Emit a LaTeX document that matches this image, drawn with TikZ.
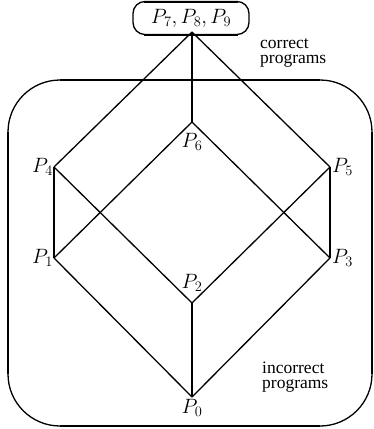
\documentclass[tikz,border=0pt]{standalone}
\usepackage{fontspec}
\setmainfont{Liberation Serif}
\begin{document}
\begin{tikzpicture}[x=1pt,y=-1pt,
  edge/.style={line width=1.3pt},
  vedge/.style={line width=2pt},
  thin/.style={line width=1.3pt},
  thick/.style={line width=2.6pt},
  lab/.style={inner sep=0pt, font=\fontsize{21}{21}\selectfont},
  txt/.style={inner sep=0pt, align=left, font=\fontsize{17.5}{15}\selectfont}]
\useasboundingbox (0,0) rectangle (374,429);
% lattice points
\coordinate (apex) at (192,32);
\coordinate (p6) at (192,122);
\coordinate (p4) at (54,167);
\coordinate (p5) at (330,167);
\coordinate (p1) at (54,258);
\coordinate (p3) at (330,258);
\coordinate (p2) at (192,303);
\coordinate (p0) at (192,397);
% big rounded box (incorrect programs)
\draw[thin, rounded corners=52pt] (8,80) rectangle (372,426);
\draw[thick] (60,80) -- (320,80);
\draw[thick] (60,426) -- (320,426);
\draw[thick] (8,132) -- (8,374);
\draw[thick] (372,132) -- (372,374);
% top box (correct programs)
\node[lab, draw, thin, rounded corners=12pt, minimum width=116pt, minimum height=33pt] (top) at (191,18) {$P_7, P_8, P_9$};
\draw[thick] (144,2) -- (238,2);
\draw[thick] (144,35) -- (238,35);
% edges
\draw[edge] (apex) -- (p4);
\draw[edge] (apex) -- (p5);
\draw[edge] (p4) -- (p2);
\draw[edge] (p5) -- (p2);
\draw[edge] (p1) -- (p6);
\draw[edge] (p3) -- (p6);
\draw[edge] (p1) -- (p0);
\draw[edge] (p3) -- (p0);
\draw[vedge] (apex) -- (p6);
\draw[vedge] (p4) -- (p1);
\draw[vedge] (p5) -- (p3);
\draw[vedge] (p2) -- (p0);
% labels
\node[lab, anchor=east] (l4) at ([xshift=-1pt]p4) {$P_4$};
\node[lab, anchor=west] (l5) at ([xshift=2pt]p5) {$P_5$};
\node[lab] (l6) at (192,142) {$P_6$};
\node[lab, anchor=east] (l1) at ([xshift=-1pt]p1) {$P_1$};
\node[lab, anchor=west] (l3) at ([xshift=2pt]p3) {$P_3$};
\node[lab] (l2) at (192,283) {$P_2$};
\node[lab] (l0) at (192,408) {$P_0$};
% texts
\node[txt, anchor=base west] (corr) at (260,63) {correct\\programs};
\node[txt, anchor=base west] (incorr) at (262,388) {incorrect\\programs};
\end{tikzpicture}
\end{document}
